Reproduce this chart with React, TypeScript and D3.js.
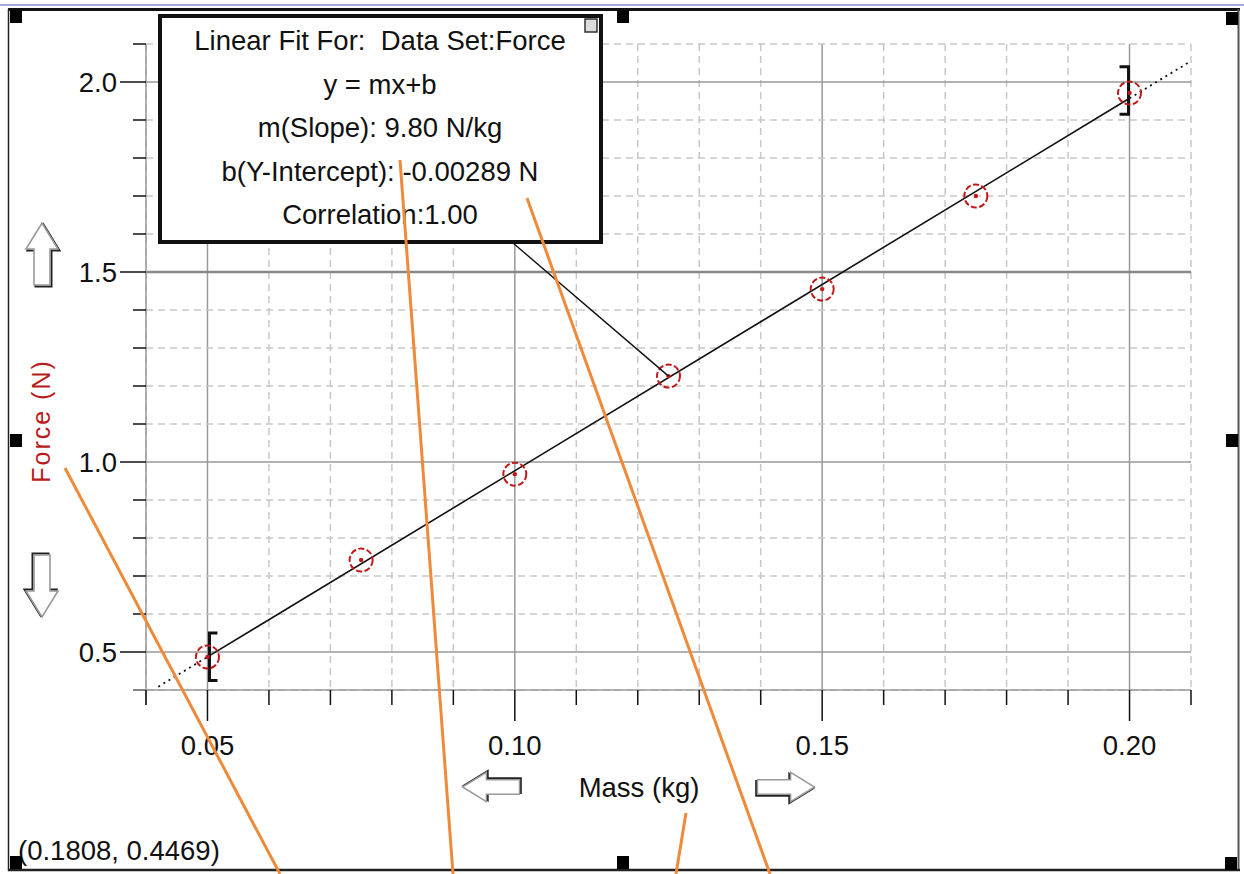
import React from "react"
import * as d3 from "d3"

// readings taken off the Logger Pro graph
const mass = [0.05, 0.075, 0.1, 0.125, 0.15, 0.175, 0.2]
const force = [0.487, 0.742, 0.968, 1.226, 1.455, 1.7, 1.971]
const slope = 9.8
const intercept = -0.00289
const xMajor = [0.05, 0.1, 0.15, 0.2]
const xLabels = ["0.05", "0.10", "0.15", "0.20"]
const yMajor = [0.5, 1.0, 1.5, 2.0]
const yLabels = ["0.5", "1.0", "1.5", "2.0"]
const fitLines = [
  "Linear Fit For:  Data Set:Force",
  "y = mx+b",
  "m(Slope): 9.80 N/kg",
  "b(Y-Intercept): -0.00289 N",
  "Correlation:1.00",
]
const cursorText = "(0.1808, 0.4469)"

// orange annotation strokes drawn over the screenshot
const notes = [
  [65, 468, 280, 874],
  [400, 160, 453, 874],
  [527, 198, 770, 874],
  [686, 813, 676, 874],
]

const W = 1244, H = 874
const font = "'Liberation Sans', Arial, sans-serif"
const fs = 27.5

const x = d3.scaleLinear().domain([0.04, 0.21]).range([146, 1191])
const y = d3.scaleLinear().domain([0.4, 2.1]).range([690, 44])

const xMinor = d3.range(4, 22).map(d => d / 100)
const yMinor = d3.range(4, 22).map(d => d / 10)
const isMajorX = (v: number) => Math.abs(v * 20 - Math.round(v * 20)) < 1e-6
const isMajorY = (v: number) => Math.abs(v * 2 - Math.round(v * 2)) < 1e-6

const fit = (m: number) => slope * m + intercept
const fitLine = d3.line<number>().x(d => x(d)).y(d => y(fit(d)))

function Arrow({ dir, cx, cy, s = 1 }: { dir: string; cx: number; cy: number; s?: number }) {
  // hollow arrow pointing up, rotated for other directions
  const p = "M0,-31 L16,-5 L8,-5 L8,31 L-8,31 L-8,-5 L-16,-5 Z"
  const rot = { up: 0, down: 180, left: -90, right: 90 }[dir]
  return (
    <g transform={`translate(${cx},${cy}) rotate(${rot}) scale(${s})`}>
      <path d={p} transform="translate(1.5,1.5)" fill="none" stroke="#222" strokeWidth={2} />
      <path d={p} fill="#fff" stroke="#999" strokeWidth={1.6} />
    </g>
  )
}

export default function App() {
  const handles = [
    [10, 10], [617, 10], [1226, 12],
    [10, 434], [1226, 434],
    [10, 856], [617, 856], [1225, 857],
  ]
  const p125 = mass[3]
  return (
    <svg width={W} height={H} style={{ position: "absolute", left: 0, top: 0, background: "#fff" }}
      fontFamily={font}>
      {/* window frame */}
      <line x1={0} x2={W} y1={5} y2={5} stroke="#a8a8e0" strokeWidth={2} />
      <line x1={8} x2={1240} y1={9.5} y2={9.5} stroke="#111" strokeWidth={3} />
      <line x1={8.5} x2={8.5} y1={9} y2={871} stroke="#222" strokeWidth={1.5} />
      <line x1={1238.5} x2={1238.5} y1={9} y2={871} stroke="#555" strokeWidth={2} />
      <line x1={8} x2={1240} y1={870} y2={870} stroke="#222" strokeWidth={2.5} />

      {/* grid */}
      {xMinor.map(v => (
        <line key={"gx" + v} x1={x(v)} x2={x(v)} y1={y(2.1)} y2={y(0.4)}
          stroke={isMajorX(v) ? "#999" : "#c8c8c8"} strokeWidth={1.5}
          strokeDasharray={isMajorX(v) ? null : "7,5"} />
      ))}
      {yMinor.map(v => (
        <line key={"gy" + v} x1={x(0.04)} x2={x(0.21)} y1={y(v)} y2={y(v)}
          stroke={isMajorY(v) ? (v === 1.5 ? "#888" : "#999") : "#c8c8c8"}
          strokeWidth={v === 1.5 ? 2.5 : 1.5}
          strokeDasharray={isMajorY(v) ? null : "7,5"} />
      ))}

      {/* y axis */}
      <line x1={146} x2={146} y1={y(2.1)} y2={705} stroke="#999" strokeWidth={1.5} />
      {yMinor.map(v => (
        <line key={"ty" + v} x1={isMajorY(v) ? 120 : 133} x2={146} y1={y(v)} y2={y(v)}
          stroke="#111" strokeWidth={1.5} />
      ))}
      {yMajor.map((v, i) => (
        <text key={"ly" + v} x={117} y={y(v) + 10} textAnchor="end" fontSize={fs} fill="#111">{yLabels[i]}</text>
      ))}

      {/* x axis */}
      <line x1={133} x2={1191} y1={690} y2={690} stroke="#999" strokeWidth={1.5} />
      {xMinor.map(v => (
        <line key={"tx" + v} x1={x(v)} x2={x(v)} y1={690} y2={isMajorX(v) ? 721 : 705}
          stroke="#111" strokeWidth={1.5} />
      ))}
      {xMajor.map((v, i) => (
        <text key={"lx" + v} x={x(v)} y={755} textAnchor="middle" fontSize={fs} fill="#111">{xLabels[i]}</text>
      ))}

      {/* axis titles and scroll arrows */}
      <text transform="translate(50,421) rotate(-90)" textAnchor="middle" fontSize={25} letterSpacing={2}
        fill="#b81c1c">Force (N)</text>
      <Arrow dir="up" cx={42} cy={254} />
      <Arrow dir="down" cx={42} cy={586} />
      <text x={639} y={797} textAnchor="middle" fontSize={fs} fill="#111">Mass (kg)</text>
      <Arrow dir="left" cx={491} cy={787} s={0.92} />
      <Arrow dir="right" cx={786} cy={787} s={0.92} />

      {/* fit line: solid over the fitted range, dotted beyond */}
      <path d={fitLine([0.042, mass[0]])} fill="none" stroke="#111" strokeWidth={1.8} strokeDasharray="2,4" />
      <path d={fitLine([mass[0], mass[6]])} fill="none" stroke="#111" strokeWidth={1.6} />
      <path d={fitLine([mass[6], 0.21])} fill="none" stroke="#111" strokeWidth={1.8} strokeDasharray="2,4" />

      {/* fit range brackets */}
      <path d={`M${x(mass[0]) + 10},${y(0.55)} H${x(mass[0]) + 2} V${y(0.425)} H${x(mass[0]) + 10}`}
        fill="none" stroke="#111" strokeWidth={3} />
      <path d={`M${x(mass[6]) - 10},${y(2.04)} H${x(mass[6]) - 1} V${y(1.915)} H${x(mass[6]) - 10}`}
        fill="none" stroke="#111" strokeWidth={3} />

      {/* data points */}
      {mass.map((m, i) => (
        <g key={"pt" + i}>
          <circle cx={x(m)} cy={y(force[i])} r={11.5} fill="none" stroke="#c41818" strokeWidth={2}
            strokeDasharray="6,2.5" />
          <circle cx={x(m)} cy={y(force[i])} r={2.2} fill="#c41818" />
        </g>
      ))}

      {/* callout connector */}
      <line x1={513} y1={243} x2={x(p125)} y2={y(force[3])} stroke="#111" strokeWidth={1.4} />

      {/* linear fit box */}
      <rect x={160} y={16} width={441} height={226} fill="#fff" stroke="#111" strokeWidth={4} />
      <rect x={585} y={19} width={12} height={13} fill="#ddd" stroke="#333" strokeWidth={1.5} />
      {fitLines.map((t, i) => (
        <text key={"ft" + i} x={380} y={50 + i * 43.5} textAnchor="middle" fontSize={fs} fill="#111"
          style={{ whiteSpace: "pre" }}>{t}</text>
      ))}

      {/* cursor readout */}
      <text x={18} y={860} fontSize={fs} fill="#111">{cursorText}</text>

      {/* selection handles */}
      {handles.map(([hx, hy], i) => (
        <rect key={"h" + i} x={hx} y={hy} width={12} height={13} fill="#000" />
      ))}

      {/* annotations */}
      {notes.map(([x1, y1, x2, y2], i) => (
        <line key={"n" + i} x1={x1} y1={y1} x2={x2} y2={y2} stroke="#ef8a3a" strokeWidth={3} />
      ))}
    </svg>
  )
}
